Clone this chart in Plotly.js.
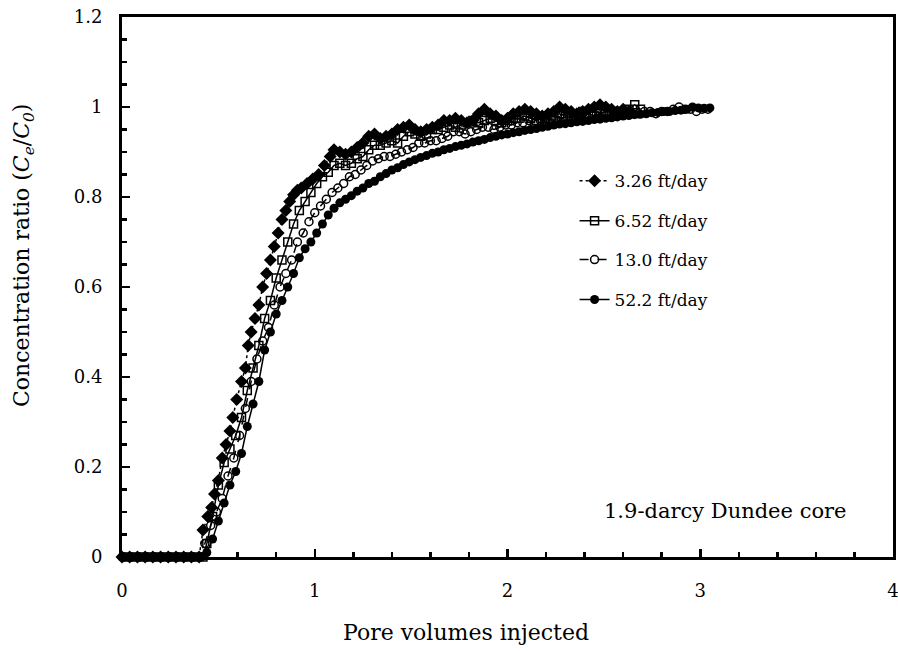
<!DOCTYPE html>
<html>
<head>
<meta charset="utf-8">
<script src="https://cdn.plot.ly/plotly-3.0.1.min.js"></script>
<style>html,body{margin:0;padding:0;background:#fff}#chart{width:898px;height:652px}</style>
</head>
<body>
<div id="chart"></div>
<script>
// ---- Data ----
var seriesNames = ["3.26 ft/day", "6.52 ft/day", "13.0 ft/day", "52.2 ft/day"];

var xA = [0,0.04,0.08,0.12,0.16,0.20,0.24,0.28,0.32,0.36,0.40,
  0.42,0.445,0.465,0.48,0.50,0.52,0.54,0.56,0.575,0.595,
  0.62,0.64,0.655,0.67,0.69,0.71,0.73,0.75,0.77,0.79,
  0.81,0.83,0.85,0.87,0.89,0.91,0.93,0.96,0.99,1.02,
  1.05,1.08,1.10,1.13,1.16,1.19,1.22,1.25,1.28,1.31,
  1.34,1.37,1.40,1.43,1.46,1.49,1.52,1.55,1.58,1.61,
  1.64,1.67,1.70,1.73,1.76,1.79,1.82,1.85,1.88,1.91,
  1.94,1.97,2.00,2.03,2.06,2.09,2.12,2.15,2.18,2.21,
  2.24,2.27,2.30,2.33,2.36,2.39,2.42,2.45,2.48,2.51,
  2.54,2.57,2.60,2.63];
var yA = [0,0,0,0,0,0,0,0,0,0,0,
  0.06,0.09,0.11,0.14,0.17,0.22,0.25,0.28,0.31,0.35,
  0.39,0.42,0.47,0.50,0.53,0.56,0.60,0.63,0.66,0.69,
  0.72,0.75,0.77,0.79,0.805,0.815,0.82,0.83,0.84,0.85,
  0.87,0.89,0.905,0.90,0.895,0.90,0.91,0.92,0.935,0.94,
  0.93,0.935,0.94,0.95,0.955,0.96,0.95,0.945,0.95,0.955,
  0.96,0.97,0.97,0.975,0.97,0.965,0.97,0.985,0.995,0.985,
  0.98,0.97,0.975,0.985,0.99,0.995,0.99,0.985,0.98,0.985,
  0.99,1.0,0.995,0.99,0.985,0.99,0.995,1.0,1.005,1.0,
  0.995,0.99,0.995,0.99];

var xB = [0.02,0.06,0.10,0.14,0.18,0.22,0.26,0.30,0.34,0.38,0.42,
  0.44,0.47,0.50,0.53,0.56,0.59,0.62,0.65,0.68,0.71,
  0.74,0.77,0.80,0.83,0.86,0.89,0.92,0.95,0.98,1.01,
  1.04,1.07,1.10,1.13,1.16,1.19,1.22,1.25,1.28,1.31,
  1.34,1.37,1.40,1.43,1.46,1.49,1.52,1.55,1.58,1.61,
  1.64,1.67,1.70,1.73,1.76,1.79,1.82,1.85,1.88,1.91,
  1.94,1.97,2.00,2.03,2.06,2.09,2.12,2.15,2.18,2.21,
  2.24,2.27,2.30,2.33,2.36,2.39,2.42,2.45,2.48,2.51,
  2.54,2.57,2.60,2.63,2.66,2.69];
var yB = [0,0,0,0,0,0,0,0,0,0,0,
  0.03,0.09,0.16,0.21,0.24,0.27,0.31,0.37,0.42,0.47,
  0.53,0.57,0.62,0.66,0.70,0.74,0.77,0.79,0.81,0.83,
  0.845,0.855,0.87,0.875,0.87,0.875,0.885,0.89,0.905,0.915,
  0.915,0.92,0.925,0.92,0.935,0.945,0.94,0.935,0.94,0.95,
  0.95,0.955,0.96,0.955,0.96,0.965,0.97,0.965,0.97,0.975,
  0.97,0.965,0.97,0.975,0.975,0.98,0.975,0.97,0.975,0.98,
  0.98,0.985,0.98,0.985,0.985,0.99,0.985,0.98,0.985,0.99,
  0.99,0.985,0.99,0.995,1.005,0.995];

var xC = [0.01,0.05,0.09,0.13,0.17,0.21,0.25,0.29,0.33,0.37,0.41,
  0.43,0.46,0.49,0.52,0.55,0.58,0.61,0.64,0.67,0.70,
  0.73,0.76,0.79,0.82,0.85,0.88,0.91,0.94,0.97,1.00,
  1.03,1.06,1.09,1.12,1.15,1.18,1.21,1.24,1.27,1.30,
  1.33,1.36,1.39,1.42,1.45,1.48,1.51,1.54,1.57,1.60,
  1.63,1.66,1.69,1.72,1.75,1.78,1.81,1.84,1.87,1.90,
  1.93,1.96,1.99,2.02,2.05,2.08,2.11,2.14,2.17,2.20,
  2.23,2.26,2.29,2.32,2.35,2.38,2.41,2.44,2.47,2.50,
  2.53,2.56,2.59,2.62,2.65,2.68,2.71,2.74,2.77,2.80,
  2.83,2.86,2.89,2.92,2.95,2.98,3.01,3.04];
var yC = [0,0,0,0,0,0,0,0,0,0,0,
  0.03,0.07,0.10,0.13,0.18,0.22,0.27,0.33,0.39,0.44,
  0.48,0.51,0.56,0.60,0.63,0.66,0.70,0.72,0.745,0.765,
  0.78,0.795,0.81,0.82,0.83,0.845,0.85,0.86,0.87,0.88,
  0.885,0.89,0.89,0.895,0.90,0.905,0.91,0.92,0.92,0.925,
  0.925,0.93,0.935,0.945,0.945,0.94,0.945,0.95,0.955,0.955,
  0.95,0.955,0.96,0.96,0.965,0.965,0.97,0.965,0.97,0.975,
  0.975,0.97,0.975,0.98,0.98,0.975,0.98,0.985,0.98,0.985,
  0.985,0.98,0.985,0.99,0.985,0.985,0.99,0.99,0.985,0.99,
  0.99,0.995,1.0,0.995,0.995,0.99,0.995,0.995];

var xD = [0,0.04,0.08,0.12,0.16,0.20,0.24,0.28,0.32,0.36,0.40,
  0.44,0.47,0.50,0.53,0.56,0.59,0.62,0.65,0.68,0.71,
  0.74,0.77,0.80,0.83,0.86,0.89,0.92,0.95,0.98,1.01,
  1.04,1.07,1.10,1.13,1.16,1.19,1.22,1.25,1.28,1.31,
  1.34,1.37,1.40,1.43,1.46,1.49,1.52,1.55,1.58,1.61,
  1.64,1.67,1.70,1.73,1.76,1.79,1.82,1.85,1.88,1.91,
  1.94,1.97,2.00,2.03,2.06,2.09,2.12,2.15,2.18,2.21,
  2.24,2.27,2.30,2.33,2.36,2.39,2.42,2.45,2.48,2.51,
  2.54,2.57,2.60,2.63,2.66,2.69,2.72,2.75,2.78,2.81,
  2.84,2.87,2.90,2.93,2.96,2.99,3.02,3.05];
var yD = [0,0,0,0,0,0,0,0,0,0,0,
  0.01,0.04,0.08,0.12,0.16,0.19,0.23,0.29,0.34,0.39,
  0.46,0.50,0.54,0.57,0.60,0.63,0.665,0.685,0.70,0.72,
  0.74,0.76,0.775,0.787,0.795,0.803,0.813,0.82,0.83,0.835,
  0.845,0.852,0.86,0.865,0.872,0.878,0.883,0.888,0.892,0.897,
  0.90,0.905,0.908,0.912,0.915,0.918,0.922,0.925,0.928,0.932,
  0.935,0.938,0.94,0.943,0.945,0.948,0.95,0.952,0.955,0.957,
  0.96,0.962,0.963,0.965,0.967,0.968,0.97,0.972,0.973,0.975,
  0.976,0.978,0.98,0.981,0.983,0.984,0.985,0.987,0.988,0.99,
  0.99,0.992,0.993,0.995,1.0,0.998,0.997,0.998];

var xTickVals = [0,1,2,3,4];
var yTickVals = [0,0.2,0.4,0.6,0.8,1.0,1.2];
var annotationText = "1.9-darcy Dundee core";
var xTitle = "Pore volumes injected";
var yTitle = "Concentration ratio (<i>C</i><sub><i>e</i></sub>/<i>C</i><sub><i>0</i></sub>)";

// ---- Chart ----
var FONT = "DejaVu Serif, serif";
var black = "#000";

var traces = [
  {x: xA, y: yA, name: seriesNames[0], legend: "legend",
   mode: "lines+markers", cliponaxis: false,
   line: {color: black, width: 1.5, dash: "dot"},
   marker: {symbol: "diamond", size: 10, color: black}},
  {x: xB, y: yB, name: seriesNames[1], legend: "legend2",
   mode: "lines+markers", cliponaxis: false,
   line: {color: black, width: 1.5},
   marker: {symbol: "square-open", size: 8, color: black, line: {width: 1.5, color: black}}},
  {x: xC, y: yC, name: seriesNames[2], legend: "legend3",
   mode: "lines+markers", cliponaxis: false,
   line: {color: black, width: 1.5, dash: "dash"},
   marker: {symbol: "circle-open", size: 8, color: black, line: {width: 1.5, color: black}}},
  {x: xD, y: yD, name: seriesNames[3], legend: "legend4",
   mode: "lines+markers", cliponaxis: false,
   line: {color: black, width: 1.5},
   marker: {symbol: "circle", size: 9, color: black}}
];

function leg(y) {
  return {x: 0.587, y: y, xanchor: "left", yanchor: "middle",
    bgcolor: "rgba(0,0,0,0)", borderwidth: 0,
    font: {family: FONT, size: 17, color: black}};
}

var layout = {
  width: 898, height: 652,
  paper_bgcolor: "#fff", plot_bgcolor: "#fff",
  margin: {l: 122, r: 5, t: 17, b: 95},
  font: {family: FONT, size: 17, color: black},
  showlegend: true,
  legend: leg(0.696), legend2: leg(0.622), legend3: leg(0.55), legend4: leg(0.476),
  xaxis: {
    range: [0, 4], tickvals: xTickVals, ticktext: xTickVals.map(String),
    showline: true, linewidth: 3, linecolor: black, mirror: true,
    ticks: "inside", ticklen: 8, tickwidth: 2.5, tickcolor: black,
    minor: {dtick: 0.2, ticks: "inside", ticklen: 5, tickwidth: 2.5, tickcolor: black, showgrid: false},
    showgrid: false, zeroline: false, ticklabelstandoff: 15, ticklabeloverflow: "allow",
    tickfont: {family: FONT, size: 18, color: black}
  },
  yaxis: {
    range: [0, 1.2], tickvals: yTickVals,
    showline: true, linewidth: 3, linecolor: black, mirror: true,
    ticks: "inside", ticklen: 8, tickwidth: 2.5, tickcolor: black,
    minor: {dtick: 0.05, ticks: "inside", ticklen: 5, tickwidth: 2.5, tickcolor: black, showgrid: false},
    showgrid: false, zeroline: false, ticklabelstandoff: 13, ticklabeloverflow: "allow",
    tickfont: {family: FONT, size: 18, color: black}
  },
  annotations: [
    {text: annotationText, xref: "paper", yref: "paper", x: 0.783, y: 0.085,
     xanchor: "center", yanchor: "middle", showarrow: false,
     font: {family: FONT, size: 21, color: black}},
    {text: xTitle, xref: "paper", yref: "paper", x: (466 - 122) / 771, y: -(632 - 557) / 540,
     xanchor: "center", yanchor: "middle", showarrow: false,
     font: {family: FONT, size: 22, color: black}},
    {text: yTitle, xref: "paper", yref: "paper", x: (24 - 122) / 771, y: (557 - 256) / 540,
     xanchor: "center", yanchor: "middle", showarrow: false, textangle: -90,
     font: {family: FONT, size: 22, color: black}}
  ]
};

Plotly.newPlot("chart", traces, layout, {displayModeBar: false, staticPlot: true});
</script>
</body>
</html>
